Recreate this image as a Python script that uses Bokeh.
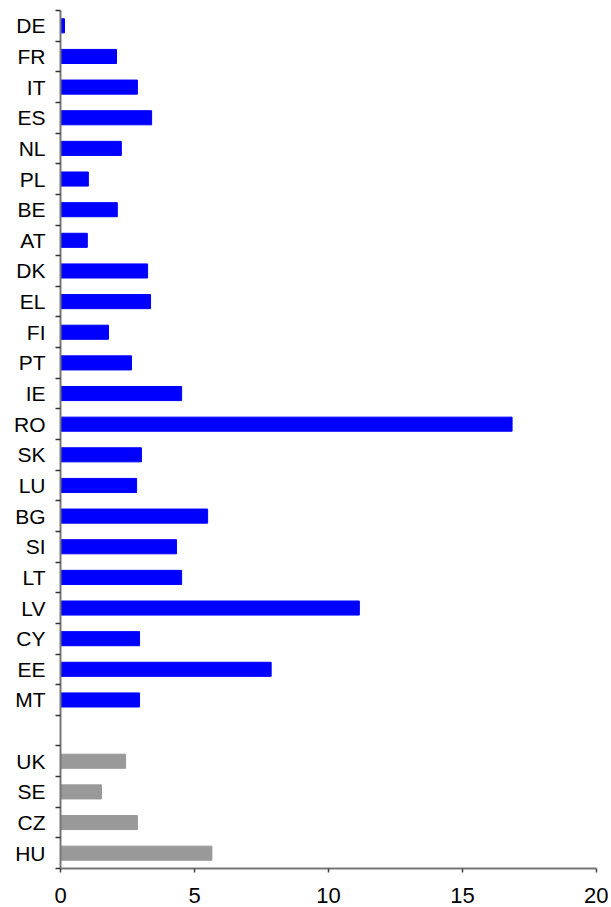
from bokeh.plotting import figure
from bokeh.models import FixedTicker, Range1d, ColumnDataSource, LinearAxis
from bokeh.embed import file_html
from bokeh.resources import INLINE

# Data (top to bottom); "" is the empty gap slot
countries = ["DE", "FR", "IT", "ES", "NL", "PL", "BE", "AT", "DK", "EL", "FI", "PT",
             "IE", "RO", "SK", "LU", "BG", "SI", "LT", "LV", "CY", "EE", "MT", "",
             "UK", "SE", "CZ", "HU"]
values = [0.15, 2.09, 2.87, 3.4, 2.27, 1.04, 2.12, 1.0, 3.25, 3.36, 1.79, 2.65,
          4.52, 16.85, 3.02, 2.84, 5.49, 4.33, 4.52, 11.15, 2.95, 7.86, 2.95, 0.0,
          2.43, 1.53, 2.87, 5.65]
groups = ["euro"] * 23 + ["gap"] + ["other"] * 4
x_ticks = [0, 5, 10, 15, 20]

color_map = {"euro": "#0000FF", "gap": "#FFFFFF", "other": "#999999"}

n = len(countries)
ypos = [n - 1 - i for i in range(n)]
src = ColumnDataSource(dict(
    y=[ypos[i] for i in range(n) if groups[i] != "gap"],
    v=[values[i] for i in range(n) if groups[i] != "gap"],
    c=[color_map[groups[i]] for i in range(n) if groups[i] != "gap"],
))

p = figure(width=608, height=907, output_backend="svg", toolbar_location=None,
           x_range=Range1d(0, 20), y_range=Range1d(-0.5, n - 0.5),
           y_axis_location=None,
           min_border_left=60, min_border_right=12, min_border_top=10, min_border_bottom=39)
p.outline_line_color = None
p.xgrid.visible = False
p.ygrid.visible = False

p.hbar(y="y", right="v", left=0, height=0.46, color="c", source=src)

bounds = [k - 0.5 for k in range(n + 1)]

# axis nearest the plot: line + tick marks at category boundaries
tick_axis = LinearAxis(ticker=FixedTicker(ticks=bounds))
tick_axis.major_label_overrides = {b: "" for b in bounds}
tick_axis.major_label_text_font_size = "1px"
tick_axis.major_label_standoff = 0
tick_axis.major_tick_out = 5
tick_axis.major_tick_in = 0
tick_axis.major_tick_line_color = "#333333"
tick_axis.major_tick_line_width = 1.5
tick_axis.minor_tick_line_color = None
tick_axis.axis_line_color = "#777777"
tick_axis.axis_line_width = 2
p.add_layout(tick_axis, "left")

# outer axis: country labels at category centers
label_axis = LinearAxis(ticker=FixedTicker(ticks=ypos))
label_axis.major_label_overrides = {ypos[i]: countries[i] for i in range(n)}
label_axis.major_tick_line_color = None
label_axis.major_tick_out = 0
label_axis.major_tick_in = 0
label_axis.minor_tick_line_color = None
label_axis.axis_line_color = None
label_axis.major_label_text_font = "Liberation Sans"
label_axis.major_label_text_font_size = "21px"
label_axis.major_label_text_color = "#000000"
label_axis.major_label_standoff = 10
p.add_layout(label_axis, "left")

xax = p.xaxis[0]
xax.ticker = FixedTicker(ticks=x_ticks)
xax.minor_tick_line_color = None
xax.major_tick_out = 4
xax.major_tick_in = 0
xax.major_tick_line_color = "#444444"
xax.major_tick_line_width = 1.5
xax.axis_line_color = "#777777"
xax.axis_line_width = 2
xax.major_label_text_font = "Liberation Sans"
xax.major_label_text_font_size = "22px"
xax.major_label_text_color = "#000000"
xax.major_label_standoff = 15

open("out.html", "w").write(file_html(p, INLINE))
